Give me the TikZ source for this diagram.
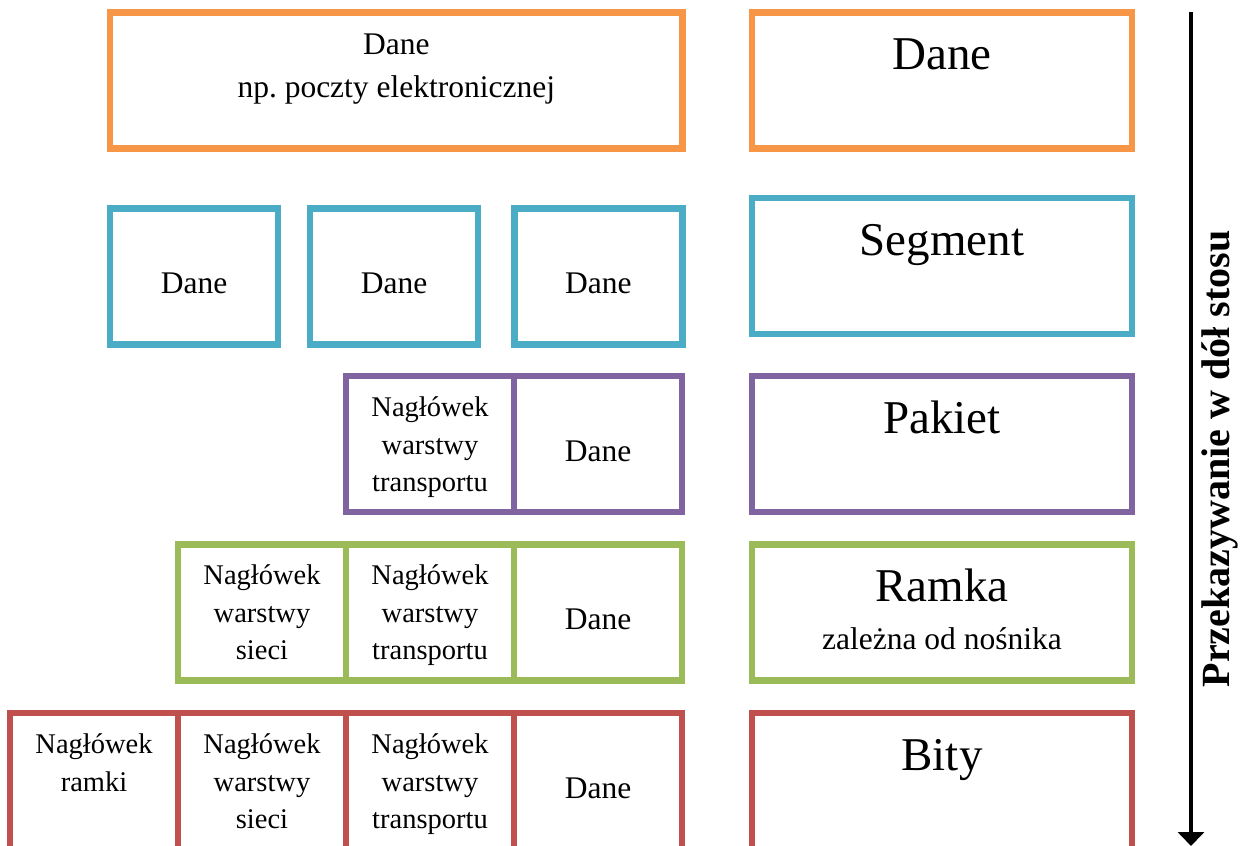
\documentclass[tikz,border=0pt]{standalone}
\usepackage{fontspec}
\setmainfont{Liberation Serif}
\usepackage{tikz}
\usetikzlibrary{arrows.meta,positioning,calc}
\definecolor{warstwaA}{HTML}{F79646}
\definecolor{warstwaB}{HTML}{4BACC6}
\definecolor{warstwaC}{HTML}{8064A2}
\definecolor{warstwaD}{HTML}{9BBB59}
\definecolor{warstwaE}{HTML}{C0504D}
\frenchspacing

\begin{document}
\begin{tikzpicture}[
  x=1pt, y=-1pt,
  box/.style={rectangle, draw, line width=6.5pt, minimum height=136pt, inner sep=0pt, outer sep=0pt},
  cell/.style={box, minimum width=168pt},
  wide/.style={box, minimum width=380pt},
  txt/.style={font=\fontsize{31.5}{43}\selectfont, align=center, inner sep=0pt},
  hdr/.style={font=\fontsize{28.5}{37.5}\selectfont, align=center, inner sep=0pt},
  big/.style={font=\fontsize{47}{52}\selectfont, align=center, inner sep=0pt},
  arrow/.style={-{Triangle[width=26pt,length=14pt]}, line width=4pt, draw=black},
  side/.style={font=\bfseries\fontsize{40}{44}\selectfont, inner sep=0pt}
]
\useasboundingbox (0,0) rectangle (1240,846);

% lewa strona (base = linia bazowa ostatniego wiersza)
\node[box, draw=warstwaA, minimum width=572.5pt] (dane) at (396.25,80.4) {};
\node[txt, anchor=base] (daneT) at ($(dane.north)+(0,85.5)$) {Dane\\np. poczty elektronicznej};

\node[cell, draw=warstwaB] (seg1) at (194.2,276.5) {};
\node[cell, draw=warstwaB] (seg2) at (394,276.5) {};
\node[cell, draw=warstwaB] (seg3) at (598.4,276.5) {};
\node[txt, anchor=base] at ($(seg1.center)+(0,17)$) {Dane};
\node[txt, anchor=base] at ($(seg2.center)+(0,17)$) {Dane};
\node[txt, anchor=base] at ($(seg3.center)+(0,17)$) {Dane};

\node[cell, draw=warstwaC] (pak1) at (430,444) {};
\node[cell, draw=warstwaC, right=0pt of pak1] (pak2) {};
\node[hdr, anchor=base] at ($(pak1.north)+(0,115.5)$) {Nagłówek\\warstwy\\transportu};
\node[txt, anchor=base] at ($(pak2.center)+(0,17)$) {Dane};

\node[cell, draw=warstwaD] (ram1) at (262,612.3) {};
\node[cell, draw=warstwaD, right=0pt of ram1] (ram2) {};
\node[cell, draw=warstwaD, right=0pt of ram2] (ram3) {};
\node[hdr, anchor=base] at ($(ram1.north)+(0,115.5)$) {Nagłówek\\warstwy\\sieci};
\node[hdr, anchor=base] at ($(ram2.north)+(0,115.5)$) {Nagłówek\\warstwy\\transportu};
\node[txt, anchor=base] at ($(ram3.center)+(0,17)$) {Dane};

\node[cell, draw=warstwaE] (bit1) at (94,781) {};
\node[cell, draw=warstwaE, right=0pt of bit1] (bit2) {};
\node[cell, draw=warstwaE, right=0pt of bit2] (bit3) {};
\node[cell, draw=warstwaE, right=0pt of bit3] (bit4) {};
\node[hdr, anchor=base] at ($(bit1.north)+(0,78)$) {Nagłówek\\ramki};
\node[hdr, anchor=base] at ($(bit2.north)+(0,115.5)$) {Nagłówek\\warstwy\\sieci};
\node[hdr, anchor=base] at ($(bit3.north)+(0,115.5)$) {Nagłówek\\warstwy\\transportu};
\node[txt, anchor=base] at ($(bit4.center)+(0,17)$) {Dane};

% prawa strona
\node[wide, draw=warstwaA] (nDane) at (942,80.4) {};
\node[wide, draw=warstwaB] (nSeg)  at (942,266.2) {};
\node[wide, draw=warstwaC] (nPak)  at (942,444) {};
\node[wide, draw=warstwaD] (nRam)  at (942,612.3) {};
\node[wide, draw=warstwaE] (nBit)  at (942,781) {};
\node[big, anchor=base] at ($(nDane.north)+(0,57)$) {Dane};
\node[big, anchor=base] at ($(nSeg.north)+(0,57)$) {Segment};
\node[big, anchor=base] at ($(nPak.north)+(0,57)$) {Pakiet};
\node[big, anchor=base] at ($(nRam.north)+(0,57)$) {Ramka};
\node[txt, anchor=base] at ($(nRam.north)+(0,105.5)$) {zależna od nośnika};
\node[big, anchor=base] at ($(nBit.north)+(0,57)$) {Bity};

% kierunek
\coordinate (gora) at (1191,12);
\coordinate (dol) at (1191,846);
\draw[arrow] (gora) -- (dol);
\node[side, rotate=90, anchor=base] (kierunek) at (1229,459) {Przekazywanie w dół stosu};
\end{tikzpicture}
\end{document}
